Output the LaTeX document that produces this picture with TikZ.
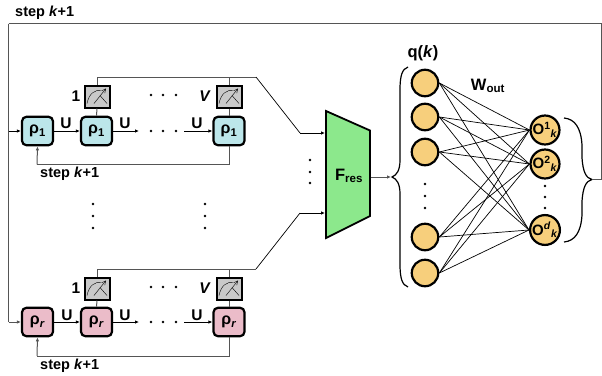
\documentclass[tikz,border=0pt]{standalone}
\usepackage{fontspec}
\setmainfont{Liberation Sans}
\usetikzlibrary{arrows.meta}
\definecolor{cyanbox}{HTML}{BCE6EA}
\definecolor{pinkbox}{HTML}{EBBCC9}
\definecolor{greybox}{HTML}{C9C9C9}
\definecolor{orangen}{HTML}{F7CF7C}
\definecolor{greentr}{HTML}{8CE88C}
\definecolor{wire}{HTML}{555555}
\tikzset{
  x=1pt,y=-1pt,
  lab/.style={font=\fontsize{14.5}{14.5}\bfseries\selectfont,inner sep=0pt},
  big/.style={font=\fontsize{16.5}{16.5}\bfseries\selectfont,inner sep=0pt},
  mid/.style={font=\fontsize{15.5}{15.5}\bfseries\selectfont,inner sep=0pt},
  rbox/.style={draw=black,line width=2.2pt,rounded corners=4.5pt,minimum width=31pt,minimum height=28.5pt,inner sep=0pt,font=\fontsize{16}{16}\bfseries\selectfont},
  ro1/.style={rbox,fill=cyanbox},
  ror/.style={rbox,fill=pinkbox},
  meter/.style={draw=black,line width=2pt,fill=greybox,minimum width=25pt,minimum height=22pt,inner sep=0pt},
  wirel/.style={draw=wire,line width=1pt},
  arr/.style={draw=black,line width=0.8pt,-{Latex[length=4pt,width=3.5pt]}},
  warr/.style={draw=wire,line width=1pt,-{Latex[length=4pt,width=3.5pt]}},
  qn/.style={circle,draw=black,line width=2.2pt,fill=orangen,minimum size=26.5pt,inner sep=0pt},
  on/.style={circle,draw=black,line width=2.2pt,fill=orangen,minimum size=25pt,inner sep=0pt,font=\fontsize{15}{15}\bfseries\selectfont},
  dotn/.style={circle,fill=black,minimum size=2.8pt,inner sep=0pt},
  link/.style={draw=black,line width=0.7pt},
  brc/.style={draw=black,line width=1.2pt}
}
\newcommand{\gaugeicon}[1]{%
  \draw[line width=0.4pt,black] ([shift={(-10,7)}]#1.center) .. controls ([shift={(-8,-3)}]#1.center) and ([shift={(-2,-7)}]#1.center) .. ([shift={(4,-6)}]#1.center);
  \draw[line width=0.4pt,black,-{Straight Barb[length=4pt,width=4pt]}] ([shift={(-3,7)}]#1.center) -- ([shift={(9,-8)}]#1.center);
  \draw[line width=0.4pt,black] ([shift={(3,-1)}]#1.center) -- ([shift={(10,7)}]#1.center);
}
\begin{document}
\begin{tikzpicture}
\useasboundingbox (0,0) rectangle (602,375);
% outer loop
\node[lab,anchor=west] (top) at (15,13) {step \textit{k}+1};
\coordinate (tl) at (8.5,23.5);
\coordinate (tr) at (601,23.5);
\coordinate (outb) at (601,179.5);
\coordinate (in1) at (8.5,131);
\coordinate (inr) at (8.5,322);
% row 1
\node[ro1] (a1) at (37.5,131) {ρ\textsubscript{1}};
\node[ro1] (a2) at (96.5,131) {ρ\textsubscript{1}};
\node[ro1] (a3) at (229,131) {ρ\textsubscript{1}};
\node[meter] (m1) at (97,96.5) {};
\node[meter] (m2) at (229,96.5) {};
% row r
\node[ror] (b1) at (37.5,322) {ρ\textsubscript{\textit{r}}};
\node[ror] (b2) at (96.5,322) {ρ\textsubscript{\textit{r}}};
\node[ror] (b3) at (229,322) {ρ\textsubscript{\textit{r}}};
\node[meter] (n1) at (97,288.5) {};
\node[meter] (n2) at (229,288.5) {};
\gaugeicon{m1}\gaugeicon{m2}\gaugeicon{n1}\gaugeicon{n2}
% trapezoid
\draw[line width=1.8pt,fill=greentr,line join=miter] (326,111) -- (370,130.5) -- (370,216) -- (326,238) -- cycle;
\coordinate (tin1) at (325,133);
\coordinate (tin2) at (325,213);
\coordinate (tout) at (370.5,177);
\node[big] (fres) at (349,176) {F\textsubscript{res}};
% wires
\draw[wirel] (tl) -- (tr) -- (outb);
\draw[wirel] (tl) -- (inr);
\draw[arr] (in1) -- (a1.west);
\draw[warr] (inr) -- (b1.west);
\coordinate (j1) at (256,77);
\coordinate (j2) at (256,269);
\draw[wirel] (a2.north) -- (m1.south);
\draw[wirel] (a3.north) -- (m2.south);
\draw[wirel] (b2.north) -- (n1.south);
\draw[wirel] (b3.north) -- (n2.south);
\coordinate (c1) at (97,77);\coordinate (c2) at (229,77);
\coordinate (d1) at (97,269);\coordinate (d2) at (229,269);
\draw[wirel] (m1.north) -- (c1) -- (j1);
\draw[wirel] (m2.north) -- (c2);
\draw[wirel] (n1.north) -- (d1) -- (j2);
\draw[wirel] (n2.north) -- (d2);
\coordinate (e1) at (300,133);\coordinate (e2) at (300,213);
\draw[line width=0.7pt] (j1) -- (e1);
\draw[line width=0.7pt] (j2) -- (e2);
\draw[arr] (e1) -- (tin1);
\draw[arr] (e2) -- (tin2);
\draw[warr] (tout) -- (391,177);
% chain row 1
\coordinate (a2r) at (139,131);\coordinate (a3l) at (184,131);
\draw[arr] (a1.east) -- (a2.west);
\draw[arr] (a2.east) -- (a2r);
\draw[arr] (a3l) -- (a3.west);
\coordinate (f1) at (229,164.5);\coordinate (f2) at (37,164.5);
\draw[wirel] (a3.south) -- (f1) -- (f2);
\draw[warr] (f2) -- (a1.south);
% chain row r
\coordinate (b2r) at (139,322);\coordinate (b3l) at (184,322);
\draw[arr] (b1.east) -- (b2.west);
\draw[arr] (b2.east) -- (b2r);
\draw[arr] (b3l) -- (b3.west);
\coordinate (g1) at (229,356);\coordinate (g2) at (37,356);
\draw[wirel] (b3.south) -- (g1) -- (g2);
\draw[warr] (g2) -- (b1.south);
% labels
\node[mid] (u1) at (66,123.5) {U};
\node[mid] (u2) at (125,123.5) {U};
\node[mid] (u3) at (197,123.5) {U};
\node[mid] (u4) at (67,315.5) {U};
\node[mid] (u5) at (125,315.5) {U};
\node[mid] (u6) at (197,315.5) {U};
\node[mid] (l1) at (76,96) {1};
\node[mid] (lv) at (205,96) {\textit{V}};
\node[mid] (l2) at (76,288) {1};
\node[mid] (lw) at (205,288) {\textit{V}};
\node[lab,anchor=west] (s1) at (40,174) {step \textit{k}+1};
\node[lab,anchor=west] (s2) at (40,366) {step \textit{k}+1};
% dots
\foreach \nm/\x/\y in {p1/151/131,p2/163/131,p3/176/131,p4/151/95,p5/163/95,p6/176/95,
  r1/151/322,r2/163/322,r3/176/322,r4/151/287,r5/163/287,r6/176/287,
  v1/93/204,v2/93/216,v3/93/228,w1/205/204,w2/205/216,w3/205/228,
  t1/310/160,t2/310/172,t3/310/183,q1/425/184,q2/425/196,q3/425/208,o1/545/186,o2/545/197,o3/545/208}
  \node[dotn] (dot\nm) at (\x,\y) {};
% network
\node[qn] (q1) at (425,83) {};
\node[qn] (q2) at (425,117) {};
\node[qn] (q3) at (425,152) {};
\node[qn] (q4) at (425,237) {};
\node[qn] (q5) at (425,273) {};
\node[on] (o1) at (545,130) {O\textsuperscript{1}\textsubscript{\textit{k}}};
\node[on] (o2) at (545,164) {O\textsuperscript{2}\textsubscript{\textit{k}}};
\node[on] (o3) at (545,230) {O\textsuperscript{\textit{d}}\textsubscript{\textit{k}}};
\foreach \i in {1,...,5}\foreach \j in {1,2,3}\draw[link] (q\i.east) -- (o\j.west);
\node[big] (ql) at (423,53) {q(\textit{k})};
\node[big] (wl) at (488,86) {W\textsubscript{out}};
% braces
\coordinate (lbt) at (408,67);\coordinate (lbb) at (408,287);\coordinate (lbm) at (392,177);
\draw[brc] (lbt) .. controls (402,69) and (400,76) .. (400,90) -- (400,160) .. controls (400,170) and (397,175) .. (lbm) .. controls (397,179) and (400,184) .. (400,194) -- (400,264) .. controls (400,278) and (402,285) .. (lbb);
\coordinate (rbt) at (564,118);\coordinate (rbb) at (564,242);\coordinate (rbm) at (592,179.5);
\draw[brc] (rbt) .. controls (575,119) and (581,128) .. (582,145) -- (582,158) .. controls (583,172) and (586,178) .. (rbm) .. controls (586,181) and (583,187) .. (582,201) -- (582,215) .. controls (581,232) and (575,241) .. (rbb);
\draw[wirel] (rbm) -- (outb);
\end{tikzpicture}
\end{document}
